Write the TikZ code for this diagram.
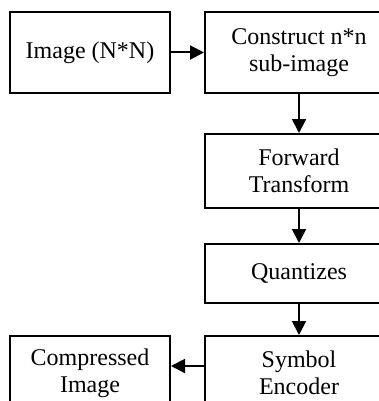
\documentclass[tikz,border=0pt]{standalone}
\usepackage{fontspec}
\setmainfont{Liberation Serif}
\usetikzlibrary{arrows.meta}
\tikzset{
  bloc/.style={draw, line width=1pt, align=center, inner sep=0pt,
    font=\fontsize{12}{13.5}\selectfont},
  fleche/.style={line width=1pt, -{Triangle[length=7pt,width=7pt]}}
}
\begin{document}
\begin{tikzpicture}[x=0.5pt, y=-0.5pt]
				\useasboundingbox (0,0) rectangle (379,401);
				\clip (0,0) rectangle (379,401);
				%Noeuds du schéma
				\node[bloc, minimum width=80pt, minimum height=40.5pt] (Img) at (90,52.5) {Image (N*N)};
				\node[bloc, minimum width=94pt, minimum height=40.5pt] (Sub) at (299,52.5) {Construct n*n\\sub-image};
				\node[bloc, minimum width=94pt, minimum height=37pt] (Fwd) at (299,171) {Forward\\Transform};
				\node[bloc, minimum width=94pt, minimum height=29.5pt] (Qua) at (299,273.5) {Quantizes};
				\node[bloc, minimum width=94pt, minimum height=37pt] (Enc) at (299,373) {Symbol\\Encoder};
				\node[bloc, minimum width=80pt, minimum height=37pt] (Cmp) at (90,373) {Compressed\\Image};
				%Flèches
				\draw[fleche] (Img) -- (Sub);
				\draw[fleche] (Sub) -- (Fwd);
				\draw[fleche] (Fwd) -- (Qua);
				\draw[fleche] (Qua) -- (Enc);
				\draw[fleche] ([yshift=3.5pt]Enc.west) -- ([yshift=3.5pt]Cmp.east);
			\end{tikzpicture}
\end{document}
